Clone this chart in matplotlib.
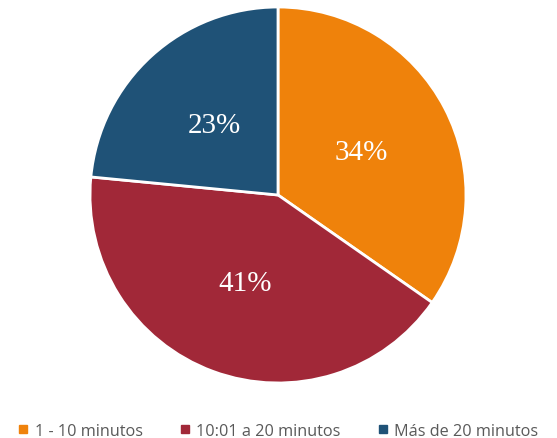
import matplotlib.pyplot as plt
from matplotlib.lines import Line2D

CATEGORIES = ["1 - 10 minutos", "10:01 a 20 minutos", "Más de 20 minutos"]
PERCENTS = [34, 41, 23]
COLORS = ["#EF820B", "#A12838", "#1F5277"]

fig = plt.figure(figsize=(5.57, 4.39), dpi=100)
ax = fig.add_axes([0.1616, 0.1253, 0.675, 0.8565])

labels = [f"{p}%" for p in PERCENTS]
wedges, texts = ax.pie(
    PERCENTS,
    labels=labels,
    colors=COLORS,
    startangle=90,
    counterclock=False,
    labeldistance=0.5,
    wedgeprops={"edgecolor": "white", "linewidth": 2},
    textprops={"color": "white", "fontsize": 21,
               "fontfamily": ["Liberation Serif", "DejaVu Serif"]},
)
for t in texts:
    t.set_horizontalalignment("center")
    t.set_verticalalignment("center")
ax.set_xlim(-1.0, 1.0)
ax.set_ylim(-1.0, 1.0)
ax.set_aspect("equal")

handles = [
    Line2D([], [], marker="s", linestyle="none", markersize=6, color=c)
    for c in COLORS
]
fig.legend(
    handles,
    CATEGORIES,
    loc="lower center",
    bbox_to_anchor=(0.5, -0.035),
    ncol=3,
    frameon=False,
    handlelength=0.6,
    handletextpad=0.4,
    columnspacing=2.3,
    prop={"family": "Open Sans", "size": 11.7},
    labelcolor="#595959",
)

fig.savefig("out.png", dpi=100)
